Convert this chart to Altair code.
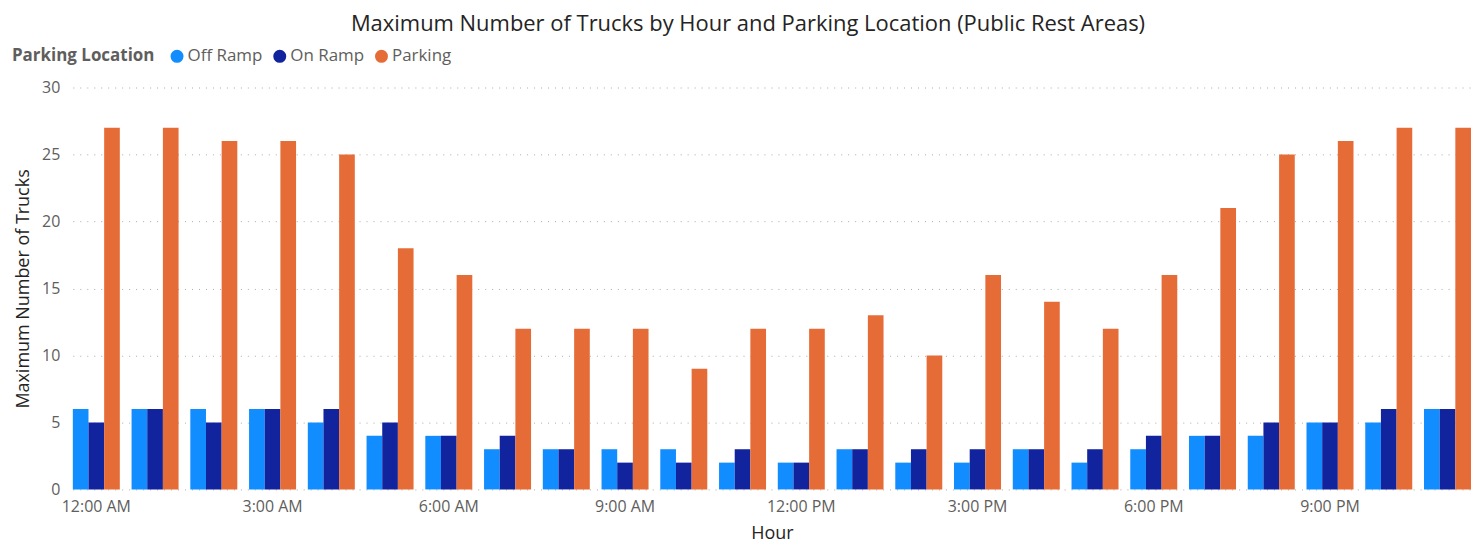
import altair as alt
import pandas as pd

hours = ["12:00 AM", "1:00 AM", "2:00 AM", "3:00 AM", "4:00 AM", "5:00 AM",
         "6:00 AM", "7:00 AM", "8:00 AM", "9:00 AM", "10:00 AM", "11:00 AM",
         "12:00 PM", "1:00 PM", "2:00 PM", "3:00 PM", "4:00 PM", "5:00 PM",
         "6:00 PM", "7:00 PM", "8:00 PM", "9:00 PM", "10:00 PM", "11:00 PM"]
off_ramp = [6, 6, 6, 6, 5, 4, 4, 3, 3, 3, 3, 2, 2, 3, 2, 2, 3, 2, 3, 4, 4, 5, 5, 6]
on_ramp = [5, 6, 5, 6, 6, 5, 4, 4, 3, 2, 2, 3, 2, 3, 3, 3, 3, 3, 4, 4, 5, 5, 6, 6]
parking = [27, 27, 26, 26, 25, 18, 16, 12, 12, 12, 9, 12, 12, 13, 10, 16, 14, 12, 16, 21, 25, 26, 27, 27]
series = ["Off Ramp", "On Ramp", "Parking"]
colors = ["#118DFF", "#12239E", "#E66C37"]
tick_labels = ["12:00 AM", "3:00 AM", "6:00 AM", "9:00 AM", "12:00 PM", "3:00 PM", "6:00 PM", "9:00 PM"]

rows = []
for name, vals in zip(series, [off_ramp, on_ramp, parking]):
    for h, v in zip(hours, vals):
        rows.append({"Hour": h, "Parking Location": name, "Value": v})
df = pd.DataFrame(rows)

FONT = "Open Sans"

chart = alt.Chart(df).mark_bar().encode(
    x=alt.X("Hour:N", sort=hours, title="Hour",
            scale=alt.Scale(paddingInner=0.2, paddingOuter=0.0),
            axis=alt.Axis(values=tick_labels, labelAngle=0, labelFontSize=16,
                          labelColor="#605E5C", labelFont=FONT, domain=False, ticks=False,
                          labelPadding=9, titleFontSize=18, titleColor="#252423",
                          titleFont=FONT, titleFontWeight="normal", titlePadding=10)),
    xOffset=alt.XOffset("Parking Location:N", sort=series),
    y=alt.Y("Value:Q", title="Maximum Number of Trucks",
            scale=alt.Scale(domain=[0, 30]),
            axis=alt.Axis(values=[0, 5, 10, 15, 20, 25, 30], labelFontSize=16,
                          labelColor="#605E5C", labelFont=FONT, domain=False, ticks=False,
                          gridDash=[1, 6], gridColor="#AAAAAA", gridWidth=1,
                          labelPadding=13, titleFontSize=18, titleColor="#252423",
                          titleFont=FONT, titleFontWeight="normal", titlePadding=9)),
    color=alt.Color("Parking Location:N", sort=series,
                    scale=alt.Scale(domain=series, range=colors),
                    legend=alt.Legend(orient="none", legendX=-61, legendY=-40,
                                      direction="horizontal", titleOrient="left",
                                      symbolType="circle", symbolSize=170,
                                      symbolStrokeWidth=0, symbolOpacity=1,
                                      labelFontSize=17, labelColor="#605E5C", labelFont=FONT,
                                      titleFontSize=17, titleColor="#605E5C", titleFont=FONT,
                                      titleFontWeight="bold", titlePadding=14,
                                      columnPadding=8, labelOffset=2)),
).properties(
    width=1402, height=403,
    title=alt.TitleParams("Maximum Number of Trucks by Hour and Parking Location (Public Rest Areas)",
                          fontSize=22, font=FONT, fontWeight="normal", color="#252423",
                          anchor="middle", dx=-24, offset=12),
    autosize=alt.AutoSizeParams(type="none"),
    padding={"left": 65, "top": 79, "right": 0, "bottom": 54},
).configure_view(stroke=None)

chart.save("out.html", embed_options={"renderer": "svg", "actions": False})
